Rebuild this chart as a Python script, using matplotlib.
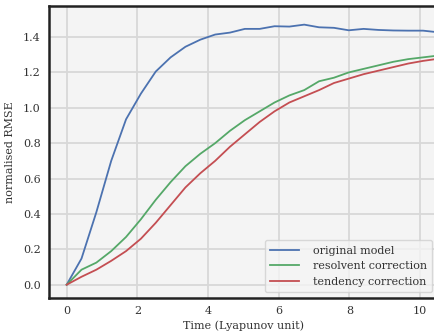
import numpy as np
import matplotlib
matplotlib.use("Agg")
import matplotlib.pyplot as plt


# -----------------------------
# Data
# -----------------------------
time = np.arange(26) * 0.42

original_model = [0.0, 0.148, 0.41, 0.70, 0.935, 1.08, 1.205, 1.285, 1.345, 1.385,
                  1.414, 1.425, 1.446, 1.446, 1.461, 1.459, 1.470, 1.455, 1.452, 1.438,
                  1.446, 1.440, 1.437, 1.436, 1.436, 1.427]

resolvent_correction = [0.0, 0.085, 0.125, 0.19, 0.27, 0.37, 0.48, 0.58, 0.67, 0.74,
                        0.80, 0.87, 0.93, 0.98, 1.03, 1.07, 1.10, 1.15, 1.17, 1.20,
                        1.22, 1.24, 1.26, 1.275, 1.285, 1.295]

tendency_correction = [0.0, 0.045, 0.085, 0.135, 0.19, 0.26, 0.35, 0.45, 0.55, 0.63,
                       0.70, 0.78, 0.85, 0.92, 0.98, 1.03, 1.065, 1.10, 1.14, 1.165,
                       1.19, 1.21, 1.23, 1.25, 1.265, 1.277]

labels = ["original model", "resolvent correction", "tendency correction"]
colors = ["#4c72b0", "#55a868", "#c44e52"]


# -----------------------------
# Plotting
# -----------------------------
plt.rcParams["font.family"] = "DejaVu Serif"

fig = plt.figure(figsize=(4.35, 3.31), dpi=100)
ax = fig.add_axes([0.1126, 0.0997, 0.894, 0.882])
ax.set_facecolor("#f4f4f4")

for values, label, color in zip([original_model, resolvent_correction, tendency_correction],
                                labels, colors):
    ax.plot(time, values, color=color, lw=1.3, label=label)

ax.set_xlim(-0.5, 10.5)
ax.set_ylim(-0.075, 1.575)
ax.set_xticks([0, 2, 4, 6, 8, 10])
ax.set_yticks([0.0, 0.2, 0.4, 0.6, 0.8, 1.0, 1.2, 1.4])
ax.grid(True, color="#d8d8d8", lw=1.3)
ax.set_axisbelow(True)
ax.tick_params(length=0, labelsize=8, colors="#333333", pad=6)

for side in ["left", "top", "bottom"]:
    ax.spines[side].set_color("#222222")
    ax.spines[side].set_linewidth(1.8)
ax.spines["right"].set_visible(False)

ax.set_xlabel("Time (Lyapunov unit)", fontsize=8, color="#333333", labelpad=3)
ax.set_ylabel("normalised RMSE", fontsize=8, color="#333333", labelpad=6)

leg = ax.legend(loc="lower right", fontsize=8, frameon=True, handlelength=2.6,
                borderpad=0.5, labelspacing=0.5, handletextpad=1.2)
leg.get_frame().set_facecolor("#f4f4f4")
leg.get_frame().set_edgecolor("#d0d0d0")
for text in leg.get_texts():
    text.set_color("#333333")

fig.savefig("out.png", dpi=100)
